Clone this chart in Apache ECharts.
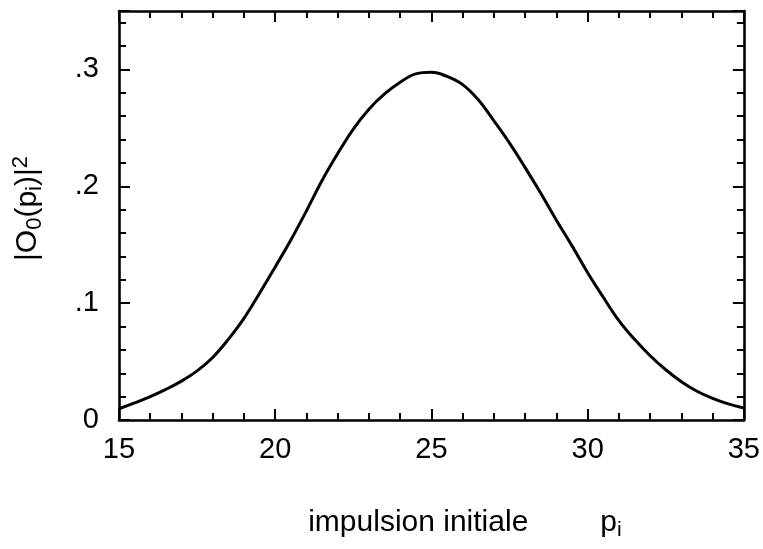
<!DOCTYPE html>
<html>
<head>
<meta charset="utf-8">
<script src="https://cdn.jsdelivr.net/npm/echarts@6/dist/echarts.min.js"></script>
<style>
  html, body { margin: 0; padding: 0; background: #fff; }
  #chart { width: 763px; height: 549px; }
</style>
</head>
<body>
<div id="chart"></div>
<script>
// Initial momentum p_i and the probability |O0(p_i)|^2
const momentum = [15, 15.5, 16, 16.5, 17, 17.5, 18, 18.5, 19, 19.5, 20, 20.5, 21, 21.5, 22, 22.5, 23, 23.5, 24, 24.5,
                  25, 25.5, 26, 26.5, 27, 27.5, 28, 28.5, 29, 29.5, 30, 30.5, 31, 31.5, 32, 32.5, 33, 33.5, 34, 34.5, 35];
const probability = [0.0096, 0.0146, 0.0200, 0.0262, 0.0333, 0.0420, 0.0535, 0.0690, 0.0870, 0.1085,
                     0.1310, 0.1540, 0.1790, 0.2050, 0.2280, 0.2490, 0.2660, 0.2790, 0.2890, 0.2962,
                     0.2975, 0.2940, 0.2870, 0.2740, 0.2560, 0.2370, 0.2160, 0.1940, 0.1710, 0.1490,
                     0.1260, 0.1050, 0.0850, 0.0690, 0.0550, 0.0430, 0.0328, 0.0246, 0.0185, 0.0138, 0.0103];

const xTickValues = [15, 20, 25, 30, 35];
const xTickLabels = ['15', '20', '25', '30', '35'];
const yTickValues = [0, 0.1, 0.2, 0.3];
const yTickLabels = ['0', '.1', '.2', '.3'];

const FONT = 'Liberation Sans, Arial, Helvetica, sans-serif';
const X_MIN = 15, X_MAX = 35, Y_MIN = 0, Y_MAX = 0.35;

function labelFor(values, labels, v) {
  for (let i = 0; i < values.length; i++) {
    if (Math.abs(values[i] - v) < 1e-9) return labels[i];
  }
  return '';
}

// one axis of the frame: either the labelled/major-tick one or a minor-tick one
function xAxisDef(position, interval, tickLen, withLabels, withLine) {
  return {
    type: 'value', position: position, min: X_MIN, max: X_MAX, interval: interval,
    axisLine: { show: withLine, onZero: false, lineStyle: { color: '#000', width: 2.6 } },
    axisTick: { show: true, inside: true, length: tickLen, lineStyle: { color: '#000', width: 2 } },
    axisLabel: withLabels ? {
      show: true, margin: 15, color: '#000', fontSize: 29, fontFamily: FONT,
      formatter: v => labelFor(xTickValues, xTickLabels, v)
    } : { show: false },
    splitLine: { show: false }
  };
}
function yAxisDef(position, interval, tickLen, withLabels, withLine) {
  return {
    type: 'value', position: position, min: Y_MIN, max: Y_MAX, interval: interval,
    axisLine: { show: withLine, onZero: false, lineStyle: { color: '#000', width: 2.6 } },
    axisTick: { show: true, inside: true, length: tickLen, lineStyle: { color: '#000', width: 2 } },
    axisLabel: withLabels ? {
      show: true, margin: 20, color: '#000', fontSize: 29, fontFamily: FONT,
      formatter: v => labelFor(yTickValues, yTickLabels, v)
    } : { show: false },
    splitLine: { show: false }
  };
}

const xMain = xAxisDef('bottom', 5, 11, true, true);
xMain.name = '{a|impulsion initiale}{g|}{a|p}{s|i}';
xMain.nameLocation = 'middle';
xMain.nameGap = 85;
xMain.nameTextStyle = {
  color: '#000', fontSize: 30, fontFamily: FONT, lineHeight: 36, padding: [0, 0, 0, 67],
  rich: {
    a: { fontSize: 30, lineHeight: 36, fontFamily: FONT, color: '#000' },
    g: { width: 72, lineHeight: 36 },
    s: { fontSize: 21, lineHeight: 21, verticalAlign: 'bottom', fontFamily: FONT, color: '#000' }
  }
};

const yMain = yAxisDef('left', 0.1, 11, true, true);
yMain.name = '|O{s|0}(p{s|i})|{t|2}';
yMain.nameLocation = 'middle';
yMain.nameRotate = 90;
yMain.nameGap = 73;
yMain.nameTextStyle = {
  color: '#000', fontSize: 30, fontFamily: FONT, lineHeight: 36, padding: [0, 0, 0, 14],
  rich: {
    s: { fontSize: 22, lineHeight: 22, verticalAlign: 'bottom', fontFamily: FONT, color: '#000' },
    t: { fontSize: 22, lineHeight: 22, verticalAlign: 'top', fontFamily: FONT, color: '#000' }
  }
};

const option = {
  backgroundColor: '#fff',
  animation: false,
  grid: { left: 119, right: 19, top: 11, bottom: 129, containLabel: false },
  xAxis: [
    xMain,
    xAxisDef('bottom', 1, 7, false, false),
    xAxisDef('top', 5, 11, false, true),
    xAxisDef('top', 1, 7, false, false)
  ],
  yAxis: [
    yMain,
    yAxisDef('left', 0.02, 7, false, false),
    yAxisDef('right', 0.1, 11, false, true),
    yAxisDef('right', 0.02, 7, false, false)
  ],
  series: [{
    type: 'line',
    xAxisIndex: 0,
    yAxisIndex: 0,
    data: momentum.map((p, i) => [p, probability[i]]),
    smooth: 0.4,
    showSymbol: false,
    lineStyle: { color: '#000', width: 3 }
  }]
};

const chart = echarts.init(document.getElementById('chart'), null, { renderer: 'canvas' });
chart.setOption(option);
</script>
</body>
</html>
